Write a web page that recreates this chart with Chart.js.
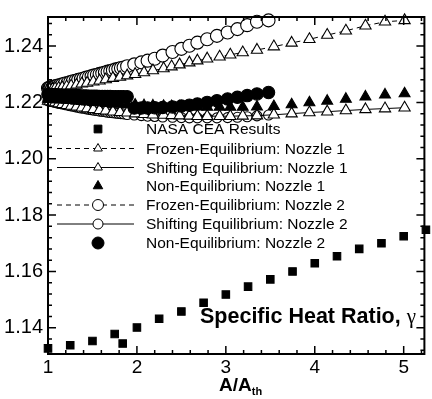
<!DOCTYPE html>
<html>
<head>
<meta charset="utf-8">
<script src="https://cdn.jsdelivr.net/npm/chart.js@4.4.1/dist/chart.umd.min.js"></script>
<style>
  body { margin: 0; background: #fff; }
  #wrap { width: 432px; height: 399px; position: relative; }
</style>
</head>
<body>
<div id="wrap"><canvas id="chart"></canvas></div>
<script>
// NASA CEA reference points
const xNasa = [1.0, 1.25, 1.5, 1.75, 1.84, 2.0, 2.25, 2.5, 2.75, 3.0, 3.25, 3.5, 3.75, 4.0, 4.25, 4.5, 4.75, 5.0, 5.25];
const gNasa = [1.1327, 1.1338, 1.1353, 1.1378, 1.1344, 1.1401, 1.1432, 1.1458, 1.1489, 1.1518, 1.1546, 1.1572, 1.1600, 1.1629, 1.1654, 1.1680, 1.1700, 1.1725, 1.1748];

// nozzle 1 grid and curves
const xNozzle1 = [1.00, 1.02, 1.05, 1.08, 1.12, 1.16, 1.21, 1.26, 1.32, 1.38, 1.44, 1.51, 1.58, 1.65, 1.73, 1.81, 1.89, 1.98, 2.08,
  2.18, 2.30, 2.39, 2.48, 2.59, 2.68, 2.79, 2.93, 3.05, 3.19, 3.35, 3.54, 3.74, 3.94, 4.14, 4.35, 4.57, 4.79, 5.01];
const gFrozen1 = [1.2245, 1.2246, 1.2247, 1.2249, 1.2251, 1.2253, 1.2256, 1.2259, 1.2262, 1.2266, 1.2269, 1.2273, 1.2277, 1.2281, 1.2286, 1.2290, 1.2295, 1.2300, 1.2306,
  1.2313, 1.2320, 1.2327, 1.2334, 1.2341, 1.2348, 1.2355, 1.2362, 1.2369, 1.2377, 1.2386, 1.2398, 1.2411, 1.2424, 1.2439, 1.2454, 1.2472, 1.2486, 1.2491];
const gShifting1 = [1.2205, 1.2203, 1.2201, 1.2199, 1.2196, 1.2193, 1.2190, 1.2187, 1.2184, 1.2181, 1.2178, 1.2175, 1.2172, 1.2170, 1.2167, 1.2165, 1.2163, 1.2160, 1.2158,
  1.2156, 1.2155, 1.2154, 1.2153, 1.2152, 1.2151, 1.2151, 1.2151, 1.2151, 1.2152, 1.2153, 1.2156, 1.2160, 1.2164, 1.2167, 1.2171, 1.2175, 1.2178, 1.2181];
const gNonEq1 = [1.2212, 1.2212, 1.2211, 1.2211, 1.2210, 1.2209, 1.2208, 1.2207, 1.2205, 1.2204, 1.2202, 1.2200, 1.2199, 1.2197, 1.2195, 1.2194, 1.2192, 1.2191, 1.2189,
  1.2188, 1.2187, 1.2186, 1.2185, 1.2184, 1.2184, 1.2183, 1.2183, 1.2183, 1.2183, 1.2184, 1.2186, 1.2192, 1.2199, 1.2205, 1.2212, 1.2220, 1.2227, 1.2231];

// nozzle 2 grid and curves (dense near the throat)
const xNozzle2 = [1.00, 1.01, 1.02, 1.03, 1.05, 1.07, 1.09, 1.11, 1.13, 1.16, 1.19, 1.22, 1.25, 1.28, 1.31, 1.34, 1.37, 1.40, 1.43, 1.46,
  1.49, 1.52, 1.55, 1.58, 1.61, 1.64, 1.67, 1.70, 1.73, 1.76, 1.79, 1.82, 1.85, 1.89,
  1.97, 2.05, 2.12, 2.20, 2.29, 2.40, 2.50, 2.59, 2.68, 2.79, 2.90, 3.02, 3.13, 3.24, 3.35, 3.48];
const gFrozen2 = [1.2250, 1.2251, 1.2252, 1.2253, 1.2254, 1.2256, 1.2258, 1.2260, 1.2261, 1.2264, 1.2267, 1.2269, 1.2272, 1.2275, 1.2277, 1.2280, 1.2282, 1.2285, 1.2288, 1.2290,
  1.2293, 1.2296, 1.2298, 1.2301, 1.2303, 1.2306, 1.2309, 1.2311, 1.2314, 1.2317, 1.2319, 1.2322, 1.2324, 1.2328,
  1.2335, 1.2342, 1.2348, 1.2355, 1.2366, 1.2379, 1.2390, 1.2401, 1.2412, 1.2424, 1.2436, 1.2448, 1.2460, 1.2474, 1.2486, 1.2491];
const gShifting2 = [1.2206, 1.2205, 1.2205, 1.2204, 1.2202, 1.2201, 1.2199, 1.2198, 1.2196, 1.2194, 1.2192, 1.2190, 1.2188, 1.2186, 1.2184, 1.2182, 1.2180, 1.2179, 1.2177, 1.2175,
  1.2174, 1.2172, 1.2171, 1.2169, 1.2168, 1.2167, 1.2165, 1.2164, 1.2163, 1.2162, 1.2161, 1.2160, 1.2159, 1.2157,
  1.2155, 1.2153, 1.2151, 1.2150, 1.2148, 1.2147, 1.2146, 1.2145, 1.2145, 1.2145, 1.2145, 1.2146, 1.2147, 1.2149, 1.2152, 1.2155];
const gNonEq2 = [1.2228, 1.2228, 1.2228, 1.2228, 1.2227, 1.2227, 1.2227, 1.2226, 1.2226, 1.2226, 1.2225, 1.2225, 1.2225, 1.2224, 1.2224, 1.2224, 1.2223, 1.2223, 1.2223, 1.2222,
  1.2222, 1.2222, 1.2222, 1.2221, 1.2221, 1.2221, 1.2221, 1.2221, 1.2220, 1.2220, 1.2220, 1.2220, 1.2220, 1.2220,
  1.2180, 1.2180, 1.2180, 1.2181, 1.2182, 1.2184, 1.2187, 1.2190, 1.2194, 1.2200, 1.2206, 1.2212, 1.2218, 1.2224, 1.2230, 1.2235];

const xTickLabels = [1, 2, 3, 4, 5];
const yTickLabels = [1.14, 1.16, 1.18, 1.20, 1.22, 1.24];
const seriesNames = ["NASA CEA Results", "Frozen-Equilibrium: Nozzle 1", "Shifting Equilibrium: Nozzle 1", "Non-Equilibrium: Nozzle 1",
  "Frozen-Equilibrium: Nozzle 2", "Shifting Equilibrium: Nozzle 2", "Non-Equilibrium: Nozzle 2"];

const FONT = "'Liberation Sans', Arial, sans-serif";

function pts(xs, ys) {
  return xs.map((x, i) => ({ x: x, y: ys[i] }));
}

function series(name, xs, ys, style, radius, filled, dash, order) {
  return {
    label: name,
    data: pts(xs, ys),
    pointStyle: style,
    pointRadius: radius,
    pointBackgroundColor: filled ? "#000" : "#fff",
    pointBorderColor: "#000",
    pointBorderWidth: 1.1,
    showLine: dash !== null,
    borderColor: "#000",
    borderWidth: 1,
    borderDash: dash || [],
    order: order,
    clip: false
  };
}

const datasets = [
  series(seriesNames[0], xNasa, gNasa, "rect", 5.3, true, null, 0),
  series(seriesNames[1], xNozzle1, gFrozen1, "triangle", 6.5, false, [5, 4], 2),
  series(seriesNames[2], xNozzle1, gShifting1, "triangle", 6.5, false, [], 2),
  series(seriesNames[3], xNozzle1, gNonEq1, "triangle", 6.3, true, null, 0),
  series(seriesNames[4], xNozzle2, gFrozen2, "circle", 6.5, false, [5, 4], 2),
  series(seriesNames[5], xNozzle2, gShifting2, "circle", 5, false, [], 2),
  series(seriesNames[6], xNozzle2, gNonEq2, "circle", 6.2, true, null, 0)
];

function marker(ctx, style, r, x, y) {
  ctx.beginPath();
  if (style === "rect") {
    const s = r * Math.SQRT1_2;
    ctx.rect(x - s, y - s, 2 * s, 2 * s);
  } else if (style === "triangle") {
    ctx.moveTo(x, y - r);
    ctx.lineTo(x + r * 0.866, y + r * 0.5);
    ctx.lineTo(x - r * 0.866, y + r * 0.5);
    ctx.closePath();
  } else {
    ctx.arc(x, y, r, 0, Math.PI * 2);
  }
  ctx.fill();
  ctx.stroke();
}

// frame, inward ticks, legend and labels
const decor = {
  id: "decor",
  afterDraw(chart) {
    const ctx = chart.ctx;
    const a = chart.chartArea;
    const xs = chart.scales.x, ys = chart.scales.y;
    ctx.save();
    ctx.strokeStyle = "#000";
    ctx.lineWidth = 1.5;
    ctx.setLineDash([]);
    ctx.beginPath();
    for (let v = 1.0; v <= 5.21; v += 0.2) {
      const px = xs.getPixelForValue(v);
      const len = Math.abs(v - Math.round(v)) < 0.01 ? 8 : 4;
      ctx.moveTo(px, a.bottom); ctx.lineTo(px, a.bottom - len);
      ctx.moveTo(px, a.top); ctx.lineTo(px, a.top + len);
    }
    for (let k = 0; k <= 30; k++) {
      const v = 1.132 + k * 0.004;
      if (v > ys.max) break;
      const py = ys.getPixelForValue(v);
      const len = (k - 2) % 5 === 0 ? 8 : 4;
      ctx.moveTo(a.left, py); ctx.lineTo(a.left + len, py);
      ctx.moveTo(a.right, py); ctx.lineTo(a.right - len, py);
    }
    ctx.stroke();
    ctx.lineWidth = 2;
    ctx.strokeRect(a.left, a.top, a.right - a.left, a.bottom - a.top);

    // legend
    const rows = [129, 148.5, 167.5, 186, 205, 224, 243];
    const sizes = [5.5, 5, 5, 5.5, 5.5, 5, 6];
    ctx.font = "15.5px " + FONT;
    ctx.textBaseline = "middle";
    ctx.textAlign = "left";
    chart.data.datasets.forEach((d, i) => {
      const y = rows[i];
      ctx.strokeStyle = "#000";
      ctx.lineWidth = 1;
      if (d.showLine) {
        ctx.setLineDash(d.borderDash);
        ctx.beginPath();
        ctx.moveTo(57, y); ctx.lineTo(134, y);
        ctx.stroke();
        ctx.setLineDash([]);
      }
      ctx.fillStyle = d.pointBackgroundColor;
      marker(ctx, d.pointStyle, sizes[i], 98, y);
      ctx.fillStyle = "#000";
      ctx.fillText(d.label, 146, y + 1);
    });

    // in-plot title
    ctx.textBaseline = "alphabetic";
    ctx.font = "bold 21.5px " + FONT;
    ctx.fillText("Specific Heat Ratio,", 200, 323);
    const w = ctx.measureText("Specific Heat Ratio, ").width;
    ctx.font = "21px 'Liberation Serif', serif";
    ctx.fillText("\u03b3", 200 + w, 323);

    // axis title A/A_th
    ctx.font = "bold 19px " + FONT;
    ctx.fillText("A/A", 219, 391);
    const w2 = ctx.measureText("A/A").width;
    ctx.font = "bold 11px " + FONT;
    ctx.fillText("th", 219 + w2, 395);
    ctx.restore();
  }
};

new Chart(document.getElementById("chart"), {
  type: "scatter",
  data: { datasets: datasets },
  options: {
    responsive: true,
    maintainAspectRatio: false,
    animation: false,
    layout: { padding: { top: 7, right: 3, left: 0, bottom: 0 } },
    plugins: { legend: { display: false }, tooltip: { enabled: false } },
    scales: {
      x: {
        type: "linear",
        min: 1,
        max: 5.233,
        afterFit: (s) => { s.height = 45; },
        afterBuildTicks: (s) => { s.ticks = xTickLabels.map((v) => ({ value: v })); },
        grid: { display: false, drawTicks: false },
        border: { display: false },
        ticks: { color: "#000", font: { family: FONT, size: 19 }, padding: 2, maxRotation: 0, autoSkip: false,
          callback: (v) => String(v) }
      },
      y: {
        type: "linear",
        min: 1.1307,
        max: 1.2503,
        afterFit: (s) => { s.width = 48; },
        afterBuildTicks: (s) => { s.ticks = yTickLabels.map((v) => ({ value: v })); },
        grid: { display: false, drawTicks: false },
        border: { display: false },
        ticks: { color: "#000", font: { family: FONT, size: 20 }, padding: 5, autoSkip: false,
          callback: (v) => v.toFixed(2) }
      }
    }
  },
  plugins: [decor]
});
</script>
</body>
</html>
